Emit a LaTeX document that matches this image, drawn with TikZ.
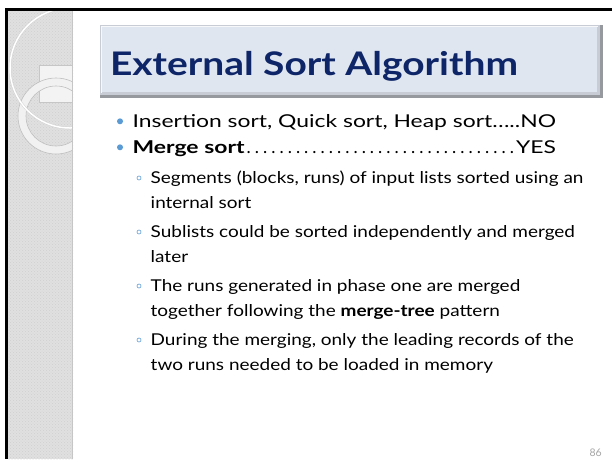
\documentclass[tikz,border=0pt]{standalone}
\usepackage{fontspec}
\setmainfont{Lato}
\usepackage{graphicx}
\usetikzlibrary{patterns}
\definecolor{navy}{RGB}{14,38,104}
\definecolor{bulletblue}{RGB}{91,155,213}
\definecolor{panelgray}{RGB}{224,224,224}
\definecolor{panelpat}{RGB}{208,208,208}
\definecolor{boxfill}{RGB}{224,230,240}
\definecolor{boxmid}{RGB}{200,205,213}
\definecolor{boxdark}{RGB}{150,153,158}
\definecolor{pnum}{RGB}{165,165,165}
\newlength\lwA
\newlength\lwB
\tikzset{
  txt/.style={anchor=base west, inner sep=0pt, outer sep=0pt, text=black},
  lvlone/.style={txt, font=\fontsize{17.7}{20}\selectfont},
  lvltwo/.style={txt, font=\fontsize{16.3}{19}\selectfont},
  dotbullet/.style={circle, fill=bulletblue, inner sep=0pt, minimum size=6pt},
  ringbullet/.style={circle, draw=bulletblue, line width=0.6pt, inner sep=0pt, minimum size=4pt},
}
\begin{document}
\settowidth\lwA{\fontsize{17.7}{20}\selectfont Insertion sort, Quick sort, Heap sort…..NO}%
\pgfmathsetmacro\fA{423.3/\lwA}%
\settowidth\lwB{\fontsize{16.3}{19}\selectfont Sublists could be sorted independently and merged}%
\pgfmathsetmacro\fB{424.3/\lwB}%
\begin{tikzpicture}[x=1pt,y=-1pt]
\useasboundingbox (0,0) rectangle (612,459);
\fill[white] (0,0) rectangle (612,459);
% left panel
\fill[panelgray] (8,11) rectangle (73,459);
\fill[pattern=crosshatch dots, pattern color=panelpat] (8,11) rectangle (73,459);
\begin{scope}
\clip (8,11) rectangle (72,459);
\draw[fill=white!60!panelgray, draw=gray!45, line width=0.6pt] (39,65) rectangle (72,102);
\draw[fill=white!55!panelgray, draw=gray!50, line width=0.6pt, even odd rule]
  (56,116) circle[radius=38] (56,116) circle[radius=30];
\draw[gray!35, line width=2.4pt] (70,68) circle[radius=60];
\draw[white, line width=1.5pt] (70,68) circle[radius=60];
\end{scope}
\draw[gray!45, line width=1.2pt] (72.4,11) -- (72.4,459);
% black frame
\fill[black] (5,8) rectangle (612,11);
\fill[black] (5,8) rectangle (8,459);
% title box
\fill[boxdark] (100,25) rectangle (603,98);
\fill[boxmid] (100,25) rectangle (600,95);
\fill[boxfill] (102,27) rectangle (597,92);
\draw[white!70!boxfill, line width=0.8pt] (101.5,93) -- (101.5,26.5) -- (598,26.5);
\node[txt, text=navy, font=\fontsize{32.5}{36}\selectfont\bfseries] (title) at (110,75)
  {\resizebox{408pt}{\height}{External Sort Algorithm}};
% level one
\node[dotbullet] (b1) at (120,121.3) {};
\node[lvlone] (l1) at (132.7,127.3) {\scalebox{\fA}[1]{Insertion sort, Quick sort, Heap sort…..NO}};
\node[dotbullet] (b2) at (120,147.3) {};
\node[lvlone] (l2) at (132.7,153) {\hbox to 423.3pt{\scalebox{\fA}[1]{\bfseries Merge sort}\xleaders\hbox to 8pt{\hss.\hss}\hfill\scalebox{\fA}[1]{YES}}};
% level two
\node[ringbullet] (s1) at (139,178) {};
\node[lvltwo] (t1a) at (150.7,183.5) {\scalebox{\fB}[1]{Segments (blocks, runs) of input lists sorted using an}};
\node[lvltwo] (t1b) at (150.7,208.5) {\scalebox{\fB}[1]{internal sort}};
\node[ringbullet] (s2) at (139,232) {};
\node[lvltwo] (t2a) at (150.7,237.5) {\scalebox{\fB}[1]{Sublists could be sorted independently and merged}};
\node[lvltwo] (t2b) at (150.7,262.5) {\scalebox{\fB}[1]{later}};
\node[ringbullet] (s3) at (139,286) {};
\node[lvltwo] (t3a) at (150.7,291.5) {\scalebox{\fB}[1]{The runs generated in phase one are merged}};
\node[lvltwo] (t3b) at (150.7,316.5) {\scalebox{\fB}[1]{together following the \textbf{merge-tree} pattern}};
\node[ringbullet] (s4) at (139,340) {};
\node[lvltwo] (t4a) at (150.7,345.5) {\scalebox{\fB}[1]{During the merging, only the leading records of the}};
\node[lvltwo] (t4b) at (150.7,370.5) {\scalebox{\fB}[1]{two runs needed to be loaded in memory}};
% page number
\node[anchor=base east, inner sep=0pt, text=pnum, font=\fontsize{10.5}{12}\selectfont] (pg) at (602,456) {86};
\end{tikzpicture}
\end{document}
